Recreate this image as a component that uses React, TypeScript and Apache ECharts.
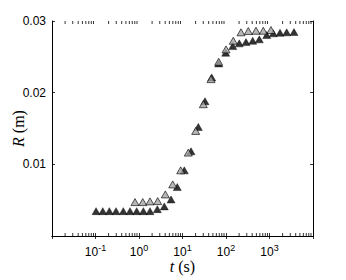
import React, { useEffect, useRef } from "react";
import * as echarts from "echarts";

const tBlack = [0.103, 0.147, 0.208, 0.296, 0.435, 0.621, 0.885, 1.26, 1.79, 2.64, 3.82, 5.45, 7.59, 11.0, 15.7, 23.1, 32.9, 46.9, 67.9, 98.4, 143, 202, 288, 411, 583, 863, 1223, 1742, 2484, 3656];
const rBlack = [0.00347, 0.00347, 0.00347, 0.00347, 0.00347, 0.00347, 0.00347, 0.00347, 0.00347, 0.00375, 0.00413, 0.0051, 0.00683, 0.00916, 0.01182, 0.01522, 0.01881, 0.02213, 0.02408, 0.02557, 0.0265, 0.02688, 0.02706, 0.02724, 0.02744, 0.02804, 0.02828, 0.02836, 0.02842, 0.02846];
const tGray = [0.809, 1.22, 1.79, 2.69, 4.03, 5.96, 9.1, 13.6, 20.1, 30.1, 45.2, 67.9, 100, 147, 221, 326, 490, 720, 1081];
const rGray = [0.00473, 0.00473, 0.00483, 0.00487, 0.0058, 0.0072, 0.00916, 0.01164, 0.01466, 0.01839, 0.02189, 0.02431, 0.02604, 0.02724, 0.02842, 0.0286, 0.02864, 0.02864, 0.02874];
const xExponentsLabeled = [-1, 0, 1, 2, 3];
const yTickLabels = [0.01, 0.02, 0.03];
const xMin = 0.01;
const xMax = 10000;

const minorTicks: number[][] = [];
for (let k = -2; k < 4; k++) {
  for (let m = 2; m <= 9; m++) minorTicks.push([m * Math.pow(10, k), 0]);
}

export default function App() {
  const ref = useRef<HTMLDivElement>(null);
  useEffect(() => {
    if (!ref.current) return;
    const chart = echarts.init(ref.current, null, { renderer: "svg" });
    const tickFont = "'Liberation Sans', Arial, sans-serif";
    const titleFont = "'Liberation Serif', 'Times New Roman', serif";
    const axisCommon = {
      axisLine: { show: true, lineStyle: { color: "#000", width: 1 } },
      axisTick: { show: true, inside: true, length: 3, lineStyle: { color: "#000", width: 0.8 } },
      splitLine: { show: false },
    };
    chart.setOption({
      animation: false,
      backgroundColor: "#fff",
      grid: { left: 52, right: 33, top: 21, bottom: 44, containLabel: false, outerBoundsMode: "none" },
      xAxis: [
        {
          type: "log",
          logBase: 10,
          min: xMin,
          max: xMax,
          ...axisCommon,
          axisLabel: {
            margin: 8,
            fontFamily: tickFont,
            fontSize: 12,
            color: "#000",
            formatter: (v: number) => {
              const e = Math.round(Math.log10(v));
              if (!xExponentsLabeled.includes(e)) return "";
              return `{b|10}{s|${e}}`;
            },
            rich: {
              b: { fontFamily: tickFont, fontSize: 12, color: "#000", lineHeight: 15 },
              s: { fontFamily: tickFont, fontSize: 9, color: "#000", lineHeight: 15, padding: [0, 0, 8, 0] },
            },
          },
          name: "{i|t} (s)",
          nameLocation: "middle",
          nameGap: 22,
          nameMoveOverlap: false,
          nameTextStyle: {
            fontFamily: titleFont,
            fontSize: 16,
            color: "#000",
            rich: { i: { fontFamily: titleFont, fontSize: 16, fontStyle: "italic", color: "#000" } },
          },
        },
        {
          type: "log",
          logBase: 10,
          min: xMin,
          max: xMax,
          position: "top",
          ...axisCommon,
          axisLabel: { show: false },
        },
      ],
      yAxis: [
        {
          type: "value",
          min: 0,
          max: 0.03,
          interval: 0.01,
          ...axisCommon,
          axisLabel: {
            margin: 6,
            fontFamily: tickFont,
            fontSize: 12,
            color: "#000",
            formatter: (v: number) => (yTickLabels.some((y) => Math.abs(y - v) < 1e-9) ? v.toFixed(2) : ""),
          },
          name: "{i|R} (m)",
          nameLocation: "middle",
          nameGap: 26,
          nameMoveOverlap: false,
          nameRotate: 90,
          nameTextStyle: {
            fontFamily: titleFont,
            fontSize: 16,
            color: "#000",
            rich: { i: { fontFamily: titleFont, fontSize: 16, fontStyle: "italic", color: "#000" } },
          },
        },
        {
          type: "value",
          min: 0,
          max: 0.03,
          interval: 0.01,
          position: "right",
          ...axisCommon,
          axisLabel: { show: false },
        },
      ],
      series: [
        {
          type: "custom",
          xAxisIndex: 0,
          yAxisIndex: 0,
          silent: true,
          clip: false,
          z: 10,
          data: minorTicks,
          encode: { x: 0, y: 1 },
          renderItem: (params: any, api: any) => {
            const x = api.coord([api.value(0), 0])[0];
            const cs = params.coordSys;
            const yb = cs.y + cs.height;
            const yt = cs.y;
            const style = { stroke: "#000", lineWidth: 0.8, fill: null };
            return {
              type: "group",
              children: [
                { type: "line", shape: { x1: x, y1: yb, x2: x, y2: yb - 3 }, style },
                { type: "line", shape: { x1: x, y1: yt, x2: x, y2: yt + 3 }, style },
              ],
            };
          },
        },
        {
          type: "scatter",
          name: "black",
          symbol: "triangle",
          symbolSize: [8, 7],
          itemStyle: { color: "#000", borderColor: "#000", borderWidth: 0.5 },
          data: tBlack.map((t, i) => [t, rBlack[i]]),
          z: 3,
        },
        {
          type: "scatter",
          name: "gray",
          symbol: "triangle",
          symbolSize: [8, 7],
          itemStyle: { color: "#a4a4a4", borderColor: "#000", borderWidth: 0.8 },
          data: tGray.map((t, i) => [t, rGray[i]]),
          z: 4,
        },
      ],
    });
    return () => chart.dispose();
  }, []);
  return (
    <div
      ref={ref}
      style={{ position: "absolute", left: 0, top: 0, width: 346, height: 280 }}
    />
  );
}
